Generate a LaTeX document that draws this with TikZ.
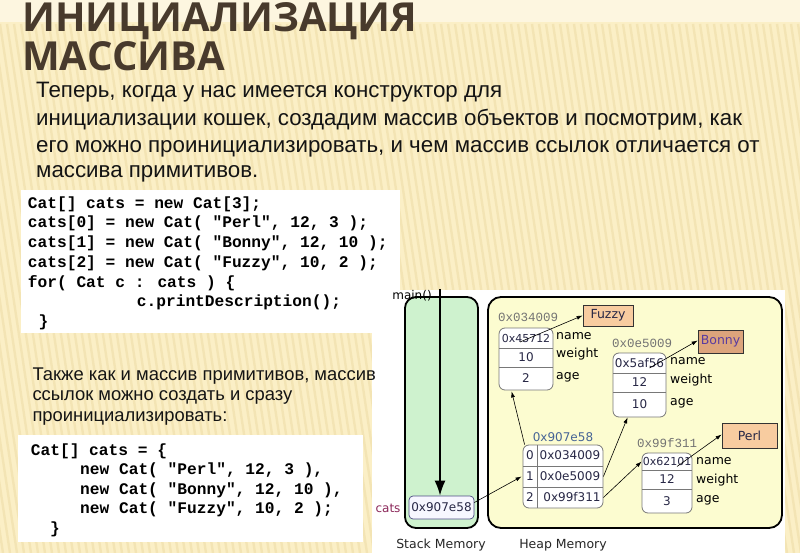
\documentclass[tikz,border=0pt]{standalone}
\usepackage{fontspec}
\setmainfont{Liberation Sans}
\newfontfamily\titlefont{Open Sans}
\newfontfamily\codefont{Liberation Mono}
\newfontfamily\diafont{DejaVu Sans}
\usetikzlibrary{arrows.meta,calc}
\definecolor{bg}{RGB}{251,239,198}
\definecolor{stripe}{RGB}{242,226,176}
\definecolor{titlec}{RGB}{72,58,44}
\definecolor{stackc}{RGB}{206,242,206}
\definecolor{heapc}{RGB}{252,252,208}
\definecolor{peach}{RGB}{248,204,160}
\definecolor{tanc}{RGB}{220,164,124}
\definecolor{objborder}{RGB}{120,120,120}
\definecolor{catsc}{RGB}{140,40,90}
\definecolor{addrblue}{RGB}{70,100,150}
\definecolor{valc}{RGB}{40,40,70}
\definecolor{bonnyc}{RGB}{90,60,160}
\definecolor{txt}{RGB}{20,20,20}
\tikzset{
  para/.style={anchor=base west,inner sep=0pt,text=txt,font=\fontsize{22.3}{26}\selectfont},
  para2/.style={anchor=base west,inner sep=0pt,text=txt,font=\fontsize{18.4}{21}\selectfont},
  codeline/.style={anchor=base west,inner sep=0pt,text=black,font=\codefont\bfseries\fontsize{16.2}{19}\selectfont},
  titleline/.style={anchor=base west,inner sep=0pt,text=titlec,font=\titlefont\bfseries\fontsize{40}{42}\selectfont},
  obj/.style={draw=objborder,fill=white,rounded corners=6pt,line width=0.8pt,inner sep=0pt},
  cell/.style={inner sep=0pt,text=valc,font=\diafont\fontsize{12}{14}\selectfont},
  small/.style={inner sep=0pt,text=valc,font=\diafont\fontsize{11}{13}\selectfont},
  fld/.style={anchor=west,inner sep=0pt,text=black,font=\diafont\fontsize{12.5}{14}\selectfont},
  addr/.style={inner sep=0pt,text=black!55,font=\codefont\fontsize{12.5}{14}\selectfont},
  namebox/.style={draw=black!80,line width=0.7pt,inner sep=0pt,font=\diafont\fontsize{12.5}{14}\selectfont},
  ptr/.style={line width=0.6pt,-{Latex[length=6pt,width=4pt]}},
  divider/.style={draw=objborder,line width=0.7pt},
  memlabel/.style={inner sep=0pt,text=black!85,font=\diafont\fontsize{12.5}{14}\selectfont}
}
\begin{document}
\begin{tikzpicture}[x=1pt,y=-1pt]
\useasboundingbox (0,0) rectangle (800,553);
% background
\fill[bg] (0,0) rectangle (800,553);
\fill[bg!55!white] (0,0) rectangle (800,22);
\begin{scope}
\clip (0,24) rectangle (800,553);
\foreach \i in {-20,...,120} {
  \draw[stripe,line width=2.4pt,opacity=0.8] (\i*7,24) -- (\i*7+80,553);
}
\end{scope}
% title
\node[titleline] (t1) at (22,32) {ИНИЦИАЛИЗАЦИЯ};
\node[titleline] (t2) at (22,71) {МАССИВА};
% paragraph 1
\node[para] (p1) at (36,98) {Теперь, когда у нас имеется конструктор для};
\node[para] (p2) at (36,126) {инициализации кошек, создадим массив объектов и посмотрим, как};
\node[para] (p3) at (36,153) {его можно проинициализировать, и чем массив ссылок отличается от};
\node[para] (p4) at (36,178) {массива примитивов.};
% code box 1
\fill[white] (21,190) rectangle (400,333);
\node[codeline] (c1) at (27.7,208.3) {Cat[] cats = new Cat[3];};
\node[codeline] (c2) at (27.7,228.0) {cats[0] = new Cat( "Perl", 12, 3 );};
\node[codeline] (c3) at (27.7,247.7) {cats[1] = new Cat( "Bonny", 12, 10 );};
\node[codeline] (c4) at (27.7,267.4) {cats[2] = new Cat( "Fuzzy", 10, 2 );};
\node[codeline] (c5) at (27.7,287.1) {for( Cat c : cats ) \{};
\node[codeline] (c6) at (136.7,306.8) {c.printDescription();};
\node[codeline] (c7) at (38.5,326.5) {\}};
% diagram panel
\fill[white] (372,290) rectangle (785,553);
% paragraph 2
\node[para2] (q1) at (32.3,380) {Также как и массив примитивов, массив};
\node[para2] (q2) at (32.3,400.5) {ссылок можно создать и сразу};
\node[para2] (q3) at (32.3,421) {проинициализировать:};
% code box 2
\fill[white] (18,435) rectangle (363,542);
\node[codeline] (d1) at (30.7,455) {Cat[] cats = \{};
\node[codeline] (d2) at (80,474.6) {new Cat( "Perl", 12, 3 ),};
\node[codeline] (d3) at (80,494.2) {new Cat( "Bonny", 12, 10 ),};
\node[codeline] (d4) at (80,513.8) {new Cat( "Fuzzy", 10, 2 );};
\node[codeline] (d5) at (50,533.4) {\}};
% memory areas
\draw[line width=1.8pt,fill=stackc,rounded corners=11pt] (405,297) rectangle (478,528);
\node[inner sep=0pt,minimum width=73pt,minimum height=231pt] (stack) at (441.5,412.5) {};
\draw[line width=1.8pt,fill=heapc,rounded corners=13pt] (488,297) rectangle (782,528);
\node[inner sep=0pt,minimum width=294pt,minimum height=231pt] (heap) at (635,412.5) {};
\node[memlabel] (sl) at (441,545) {Stack Memory};
\node[memlabel] (hl) at (563,545) {Heap Memory};
% main()
\node[inner sep=0pt,font=\diafont\fontsize{12}{14}\selectfont] (main) at (412,296) {main()};
\coordinate (mtop) at (440,289);
\coordinate (mtick) at (447,296);
\draw[line width=0.8pt] (main.east) -- (mtick);
% cats
\node[draw=black!45!blue!40!gray,fill=blue!3,rounded corners=4pt,line width=0.7pt,minimum width=65pt,minimum height=23pt,inner sep=0pt,text=valc,font=\diafont\fontsize{12}{14}\selectfont] (catsbox) at (441.5,507.5) {0x907e58};
\node[inner sep=0pt,text=catsc,font=\diafont\fontsize{12}{14}\selectfont] (catsl) at (388,508) {cats};
\draw[line width=1.8pt,-{Latex[length=15pt,width=11pt]}] (mtop) -- (catsbox.north -| mtop);
% Fuzzy object
\node[addr] (a1) at (528,317) {0x034009};
\node[obj,minimum width=54pt,minimum height=62pt] (fobj) at (526,359) {};
\draw[divider] (499,348) -- (553,348) (499,367) -- (553,367);
\node[small] (f1) at (526,338) {0x45712};
\node[cell] (f2) at (526,357.5) {10};
\node[cell] (f3) at (526,378.5) {2};
\node[fld] (fn) at (556,336) {name};
\node[fld] (fw) at (556,354) {weight};
\node[fld] (fa) at (556,377) {age};
\node[namebox,fill=peach,minimum width=50pt,minimum height=21pt,text=valc] (fuzzy) at (608,315.5) {Fuzzy};
% Bonny object
\node[addr] (a2) at (642,343) {0x0e5009};
\node[obj,minimum width=53pt,minimum height=64pt] (bobj) at (639.5,385) {};
\draw[divider] (613,373) -- (666,373) (613,392) -- (666,392);
\node[cell] (b1) at (639.5,363) {0x5af56};
\node[cell] (b2) at (639.5,382.5) {12};
\node[cell] (b3) at (639.5,404.5) {10};
\node[fld] (bn) at (670,361) {name};
\node[fld] (bw) at (670,380) {weight};
\node[fld] (ba) at (670,403) {age};
\node[namebox,fill=tanc,minimum width=45pt,minimum height=23pt,text=bonnyc] (bonny) at (720.5,341.5) {Bonny};
% Perl object
\node[addr] (a3) at (667,443) {0x99f311};
\node[obj,minimum width=50pt,minimum height=60pt] (pobj) at (667,483) {};
\draw[divider] (642,470) -- (692,470) (642,489) -- (692,489);
\node[small] (r1) at (667,461.5) {0x62101};
\node[cell] (r2) at (667,479.5) {12};
\node[cell] (r3) at (667,501) {3};
\node[fld] (rn) at (696,461) {name};
\node[fld] (rw) at (696,480) {weight};
\node[fld] (ra) at (696,500) {age};
\node[namebox,fill=peach,minimum width=55pt,minimum height=25pt,text=valc] (perl) at (749.5,435.5) {Perl};
% array object
\node[inner sep=0pt,text=addrblue,font=\diafont\fontsize{12}{14}\selectfont] (a0) at (563,437) {0x907e58};
\node[obj,minimum width=80pt,minimum height=63pt] (arr) at (563,476.5) {};
\draw[divider] (537,445) -- (537,508) (523,466) -- (603,466) (523,487) -- (603,487);
\node[cell] (i0) at (530,455.5) {0};
\node[cell] (i1) at (530,476.5) {1};
\node[cell] (i2) at (530,497.5) {2};
\node[cell] (v0) at (570,455.5) {0x034009};
\node[cell] (v1) at (570,476.5) {0x0e5009};
\node[cell] (v2) at (572,497.5) {0x99f311};
% pointers
\draw[ptr] ([yshift=5pt]catsbox.east) -- ([xshift=-1pt]i1.west -| arr.west);
\draw[ptr] ([xshift=2pt]arr.north west) -- ([xshift=13pt,yshift=-1pt]fobj.south west);
\draw[ptr] (arr.east |- v1.east) -- ([xshift=15pt]bobj.south west);
\draw[ptr] (arr.east |- v2.east) -- (pobj.west |- r1.west);
\draw[ptr] ([xshift=-6pt,yshift=-4pt]f1.center) -- (fuzzy.west);
\draw[ptr] ([xshift=10pt,yshift=-5pt]b1.center) -- ([yshift=1pt]bonny.west);
\draw[ptr] ([xshift=10pt,yshift=-5pt]r1.center) -- ([yshift=1pt]perl.west);
\end{tikzpicture}
\end{document}
